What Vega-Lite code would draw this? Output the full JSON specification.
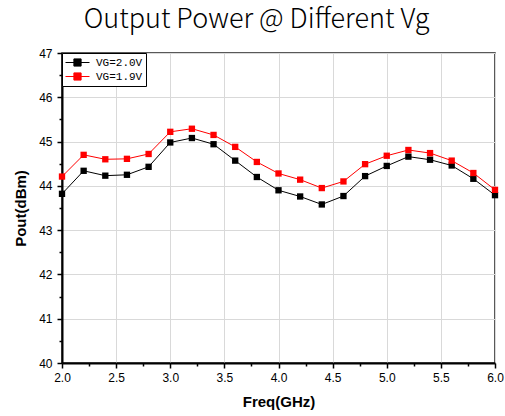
{
  "$schema": "https://vega.github.io/schema/vega-lite/v6.json",
  "width": 433,
  "height": 310,
  "autosize": {"type": "none"},
  "padding": {"left": 62, "top": 53, "right": 10, "bottom": 53},
  "title": {"text": "Output Power @ Different Vg", "font": "Noto Sans CJK SC", "fontWeight": 300, "fontSize": 27, "color": "#000", "anchor": "middle", "dx": -22, "offset": 13},
  "config": {
    "view": {"stroke": "#222", "strokeWidth": 1.5},
    "axis": {
      "labelFont": "Liberation Sans", "labelFontSize": 12, "labelColor": "#000", "labelFlush": false,
      "titleFont": "Liberation Sans", "titleFontSize": 15, "titleFontWeight": "bold", "titleColor": "#000",
      "tickColor": "#000", "tickWidth": 1.5, "tickSize": 5,
      "domainColor": "#000", "domainWidth": 2,
      "gridColor": "#d9d9d9", "gridWidth": 1
    }
  },
  "data": {"values": [
    {"f": 2.0, "p": 43.82, "s": "VG=2.0V"}, {"f": 2.2, "p": 44.34, "s": "VG=2.0V"}, {"f": 2.4, "p": 44.23, "s": "VG=2.0V"},
    {"f": 2.6, "p": 44.25, "s": "VG=2.0V"}, {"f": 2.8, "p": 44.43, "s": "VG=2.0V"}, {"f": 3.0, "p": 44.98, "s": "VG=2.0V"},
    {"f": 3.2, "p": 45.08, "s": "VG=2.0V"}, {"f": 3.4, "p": 44.94, "s": "VG=2.0V"}, {"f": 3.6, "p": 44.57, "s": "VG=2.0V"},
    {"f": 3.8, "p": 44.2, "s": "VG=2.0V"}, {"f": 4.0, "p": 43.9, "s": "VG=2.0V"}, {"f": 4.2, "p": 43.76, "s": "VG=2.0V"},
    {"f": 4.4, "p": 43.58, "s": "VG=2.0V"}, {"f": 4.6, "p": 43.77, "s": "VG=2.0V"}, {"f": 4.8, "p": 44.22, "s": "VG=2.0V"},
    {"f": 5.0, "p": 44.45, "s": "VG=2.0V"}, {"f": 5.2, "p": 44.66, "s": "VG=2.0V"}, {"f": 5.4, "p": 44.59, "s": "VG=2.0V"},
    {"f": 5.6, "p": 44.46, "s": "VG=2.0V"}, {"f": 5.8, "p": 44.16, "s": "VG=2.0V"}, {"f": 6.0, "p": 43.79, "s": "VG=2.0V"},
    {"f": 2.0, "p": 44.21, "s": "VG=1.9V"}, {"f": 2.2, "p": 44.7, "s": "VG=1.9V"}, {"f": 2.4, "p": 44.6, "s": "VG=1.9V"},
    {"f": 2.6, "p": 44.61, "s": "VG=1.9V"}, {"f": 2.8, "p": 44.72, "s": "VG=1.9V"}, {"f": 3.0, "p": 45.22, "s": "VG=1.9V"},
    {"f": 3.2, "p": 45.29, "s": "VG=1.9V"}, {"f": 3.4, "p": 45.15, "s": "VG=1.9V"}, {"f": 3.6, "p": 44.88, "s": "VG=1.9V"},
    {"f": 3.8, "p": 44.54, "s": "VG=1.9V"}, {"f": 4.0, "p": 44.28, "s": "VG=1.9V"}, {"f": 4.2, "p": 44.14, "s": "VG=1.9V"},
    {"f": 4.4, "p": 43.95, "s": "VG=1.9V"}, {"f": 4.6, "p": 44.1, "s": "VG=1.9V"}, {"f": 4.8, "p": 44.49, "s": "VG=1.9V"},
    {"f": 5.0, "p": 44.68, "s": "VG=1.9V"}, {"f": 5.2, "p": 44.81, "s": "VG=1.9V"}, {"f": 5.4, "p": 44.74, "s": "VG=1.9V"},
    {"f": 5.6, "p": 44.57, "s": "VG=1.9V"}, {"f": 5.8, "p": 44.29, "s": "VG=1.9V"}, {"f": 6.0, "p": 43.91, "s": "VG=1.9V"}
  ]},
  "resolve": {"axis": {"x": "independent", "y": "independent"}},
  "layer": [
    {
      "mark": {"type": "line", "strokeWidth": 1},
      "encoding": {
        "x": {"field": "f", "type": "quantitative", "scale": {"domain": [2, 6], "nice": false, "zero": false},
              "axis": {"orient": "bottom", "values": [2, 2.5, 3, 3.5, 4, 4.5, 5, 5.5, 6], "format": ".1f", "title": "Freq(GHz)", "labelPadding": 4, "titlePadding": 11, "grid": true}},
        "y": {"field": "p", "type": "quantitative", "scale": {"domain": [40, 47], "nice": false, "zero": false},
              "axis": {"orient": "left", "values": [40, 41, 42, 43, 44, 45, 46, 47], "title": "Pout(dBm)", "labelPadding": 5, "titlePadding": 10, "grid": true}},
        "color": {"field": "s", "type": "nominal", "sort": ["VG=2.0V", "VG=1.9V"],
                  "scale": {"domain": ["VG=2.0V", "VG=1.9V"], "range": ["#000000", "#ff0000"]},
                  "legend": {"orient": "none", "legendX": 0, "legendY": 0, "title": null,
                             "strokeColor": "#000", "fillColor": "#fff", "padding": 3, "rowPadding": 1,
                             "labelFont": "Liberation Mono", "labelFontSize": 11, "labelColor": "#000", "labelOffset": 18,
                             "symbolType": "M-1,0H3M0.4,-0.6H1.6V0.6H0.4Z", "symbolSize": 144, "symbolStrokeWidth": 1,
                             "encode": {"symbols": {"update": {"fill": {"scale": "color", "field": "value"}, "stroke": {"scale": "color", "field": "value"}, "strokeWidth": {"value": 1}, "opacity": {"value": 1}}}}}}
      }
    },
    {
      "mark": {"type": "point", "shape": "square", "filled": true, "size": 40, "opacity": 1},
      "encoding": {
        "x": {"field": "f", "type": "quantitative", "axis": null},
        "y": {"field": "p", "type": "quantitative", "axis": null},
        "color": {"field": "s", "type": "nominal", "legend": null}
      }
    },
    {
      "mark": {"type": "point", "opacity": 0},
      "encoding": {
        "x": {"field": "f", "type": "quantitative",
              "axis": {"orient": "bottom", "values": [2.25, 2.75, 3.25, 3.75, 4.25, 4.75, 5.25, 5.75], "labels": false, "title": null, "grid": false, "domain": false, "tickSize": 3}},
        "y": {"field": "p", "type": "quantitative",
              "axis": {"orient": "left", "values": [40.5, 41.5, 42.5, 43.5, 44.5, 45.5, 46.5], "labels": false, "title": null, "grid": false, "domain": false, "tickSize": 3}}
      }
    }
  ]
}
